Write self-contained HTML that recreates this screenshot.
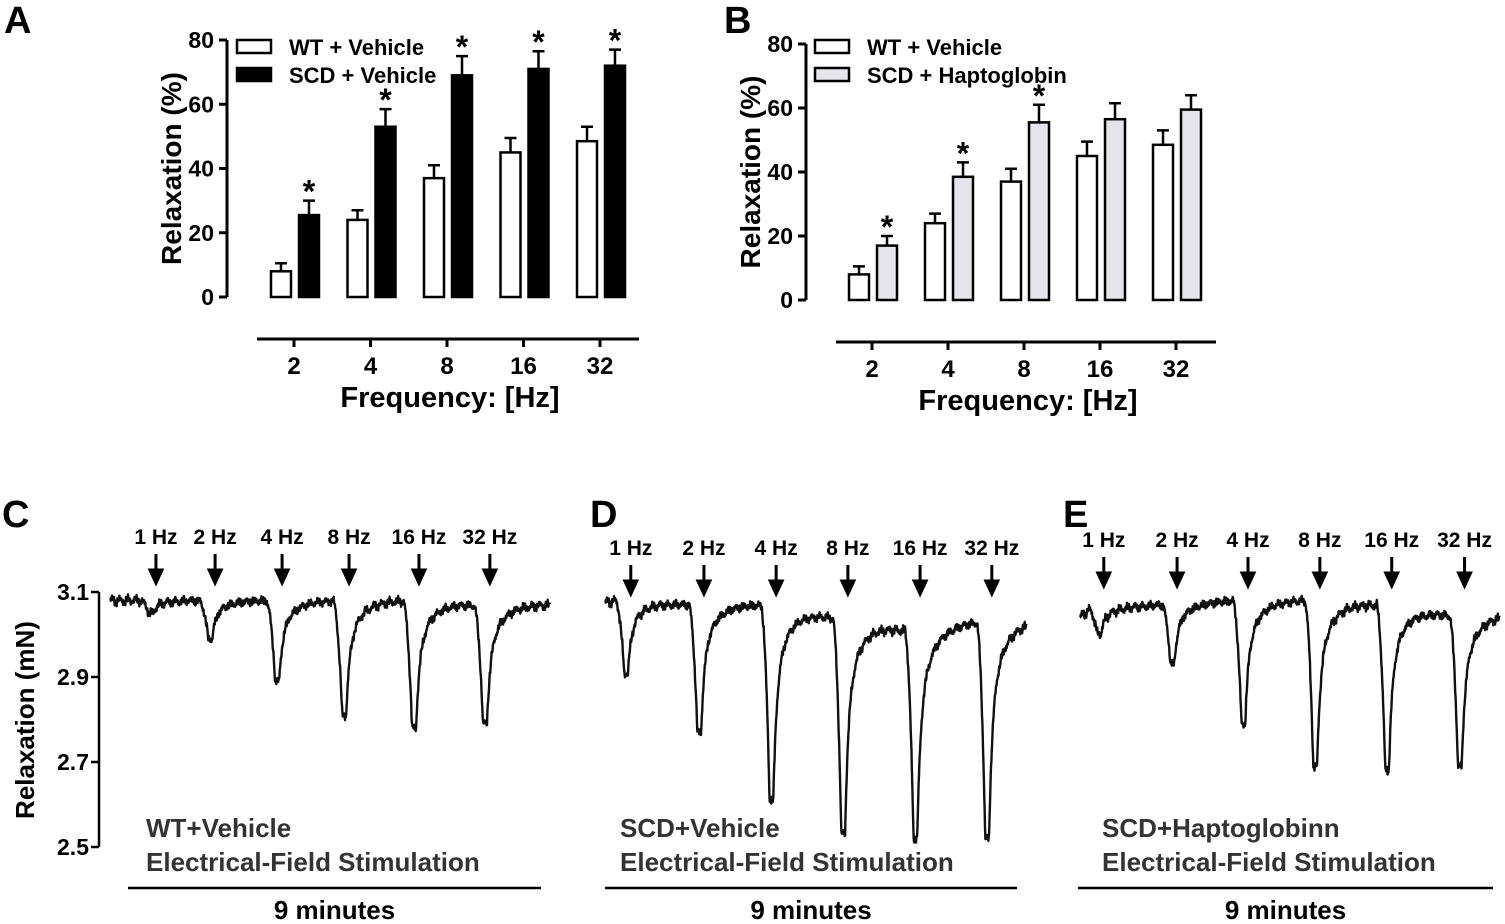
<!DOCTYPE html>
<html><head><meta charset="utf-8">
<style>
html,body{margin:0;padding:0;background:#fff;}
svg{display:block;font-family:"Liberation Sans",Arial,sans-serif;font-weight:bold;}
</style></head>
<body>
<svg id="fig" width="1505" height="924" viewBox="0 0 1505 924" xmlns="http://www.w3.org/2000/svg">
<g id="gA"></g>
<g id="gB"></g>
<g id="gC"></g>
<g id="gD"></g>
<g id="gE"></g>
</svg>
<script>
// ---------- bar chart data ----------
const freqCats = ["2","4","8","16","32"];
const yTicks = [0,20,40,60,80];
const wtMean = [8,24,37,45,48.5];
const wtErr = [2.5,3,4,4.5,4.5];
const scdMean = [25.5,53,69,71,72];
const scdErr = [4.5,5.5,6,5.5,5];
const scdStar = [true,true,true,true,true];
const hpMean = [17,38.5,55.5,56.5,59.5];
const hpErr = [3,4.5,5.5,5,4.5];
const hpStar = [true,true,true,false,false];

// ---------- trace data (minutes, mN) ----------
const freqLabels = ["1 Hz","2 Hz","4 Hz","8 Hz","16 Hz","32 Hz"];
const cStim = [0.94,2.15,3.52,4.89,6.32,7.77];
const cMin = [3.05,2.99,2.89,2.81,2.78,2.79];
const cBase = [3.08,3.08,3.08,3.08,3.08,3.08,3.07];
const dStim = [0.55,2.11,3.65,5.18,6.72,8.25];
const dMin = [2.91,2.77,2.615,2.535,2.52,2.52];
const dBase = [3.075,3.08,3.07,3.07,3.04,3.01,3.03];
const eStim = [0.51,2.08,3.60,5.14,6.68,8.24];
const eMin = [3.0,2.93,2.79,2.69,2.685,2.69];
const eBase = [3.04,3.06,3.07,3.08,3.08,3.07,3.045];
const mNTicks = [3.1,2.9,2.7,2.5];

const NS="http://www.w3.org/2000/svg";
function mk(parent,tag,attrs,text){const e=document.createElementNS(NS,tag);for(const k in attrs)e.setAttribute(k,attrs[k]);if(text!==undefined)e.textContent=text;parent.appendChild(e);return e;}

function barPanel(g,cfg){
  const y=v=>cfg.y0-(v/80)*(cfg.y0-cfg.y80);
  const cx=i=>cfg.c0+i*cfg.step;
  let t=mk(g,'text',{x:cfg.letterX,y:33,'font-size':38,fill:'#000'},cfg.letter);
  
  
  let a=mk(g,'line',{x1:cfg.ax,y1:y(80),x2:cfg.ax,y2:y(0),stroke:'#000','stroke-width':3});
  
  
  yTicks.forEach(v=>{
    let tk=mk(g,'line',{x1:cfg.ax-8,y1:y(v),x2:cfg.ax,y2:y(v),stroke:'#000','stroke-width':3});
    
    
    let tl=mk(g,'text',{x:cfg.ax-13,y:y(v)+8,'font-size':23,'text-anchor':'end'},String(v));
    
    
  });
  let yt=mk(g,'text',{x:0,y:0,'font-size':28,'text-anchor':'middle',transform:`translate(${cfg.ax-46},${(y(0)+y(80))/2}) rotate(-90)`},'Relaxation (%)');
  
  
  let xa=mk(g,'line',{x1:cfg.xl0,y1:cfg.xay,x2:cfg.xl1,y2:cfg.xay,stroke:'#000','stroke-width':3});
  
  
  freqCats.forEach((c,i)=>{
    let tk=mk(g,'line',{x1:cx(i),y1:cfg.xay,x2:cx(i),y2:cfg.xay+8,stroke:'#000','stroke-width':3});
    
    
    let tl=mk(g,'text',{x:cx(i),y:cfg.xay+35,'font-size':24,'text-anchor':'middle'},c);
    
    
  });
  let xt=mk(g,'text',{x:(cfg.xl0+cfg.xl1)/2+2,y:cfg.xay+68,'font-size':29,'text-anchor':'middle'},'Frequency: [Hz]');
  
  
  const bw=20;
  function bar(i,m,e,fill,off,name,star){
    const x=cx(i)+off;
    const top=y(m);
    let eb=mk(g,'path',{d:`M${x+bw/2},${top} V${y(m+e)} M${x+bw/2-6},${y(m+e)} H${x+bw/2+6}`,stroke:'#000','stroke-width':2.5,fill:'none'});
    
    
    let r=mk(g,'rect',{x:x,y:top,width:bw,height:y(0)-top,fill:fill,stroke:'#000','stroke-width':2.5});
    
    
    if(star){
      let s=mk(g,'text',{x:x+bw/2,y:y(m+e)+2,'font-size':32,'text-anchor':'middle'},'*');
      
      
    }
  }
  freqCats.forEach((c,i)=>{
    bar(i,wtMean[i],wtErr[i],'#fff',-23,'wt',false);
    bar(i,cfg.mean[i],cfg.err[i],cfg.fill,5,cfg.sname,cfg.star[i]);
  });
  const lg=[['WT + Vehicle','#fff'],[cfg.legend,cfg.fill]];
  lg.forEach((l,k)=>{
    let r=mk(g,'rect',{x:cfg.lx,y:cfg.ly+k*28,width:34,height:13,fill:l[1],stroke:'#000','stroke-width':2.5});
    
    
    let tt=mk(g,'text',{x:cfg.lx+52,y:cfg.ly+k*28+15,'font-size':22},l[0]);
    
    
  });
}
barPanel(document.getElementById('gA'),{letter:'A',letterX:4,ax:227,y0:297,y80:40,c0:294,step:76.5,xay:339,xl0:257,xl1:639,
  mean:scdMean,err:scdErr,star:scdStar,fill:'#000',sname:'scd',legend:'SCD + Vehicle',lx:237,ly:40});
barPanel(document.getElementById('gB'),{letter:'B',letterX:724,ax:806,y0:300,y80:44,c0:872,step:76,xay:342,xl0:836,xl1:1216,
  mean:hpMean,err:hpErr,star:hpStar,fill:'#e4e4ea',sname:'scd-hp',legend:'SCD + Haptoglobin',lx:815,ly:40});

function tracePanel(g,cfg){
  const yv=v=>592+(3.1-v)*425;
  const xt=m=>cfg.x0+m/9*(cfg.x1-cfg.x0);
  let t=mk(g,'text',{x:cfg.letterX,y:cfg.letterY,'font-size':38},cfg.letter);
  
  
  cfg.stim.forEach((s,i)=>{
    const x=xt(s);
    let l=mk(g,'text',{x:x,y:cfg.labY,'font-size':21,'text-anchor':'middle'},freqLabels[i]);
    
    
    let ar=mk(g,'path',{d:`M${x},${cfg.labY+10} V${cfg.labY+30} M${x-6},${cfg.labY+26} L${x},${cfg.labY+39} L${x+6},${cfg.labY+26} Z`,stroke:'#000','stroke-width':3,fill:'#000'});
    
    
  });
  const anchors=[0,...cfg.stim.map(s=>s-0.3)];
  anchors.push(9);
  const baseAt=m=>{
    for(let k=0;k<anchors.length-1;k++){
      if(m<=anchors[k+1]){const f=(m-anchors[k])/(anchors[k+1]-anchors[k]);return cfg.base[k]+(cfg.base[Math.min(k+1,cfg.base.length-1)]-cfg.base[k])*f;}
    }
    return cfg.base[cfg.base.length-1];
  };
  let d='';
  for(let m=0,n=0;m<=9.0001;m+=0.008,n++){
    let v=baseAt(m);
    cfg.stim.forEach((s,i)=>{
      const depth=baseAt(s-0.3)-cfg.min[i];
      const on=s-0.32, tm=s-0.14, hold=0.08;
      if(m>=on&&m<tm){const f=(m-on)/(tm-on);v-=depth*(0.15*f+0.85*f*f);}
      else if(m>=tm&&m<tm+hold) v-=depth;
      else if(m>=tm+hold){const dt=m-tm-hold;v-=depth*(0.6*Math.exp(-dt/0.07)+0.4*Math.exp(-dt/0.28));}
    });
    const jit=0.007*Math.sin(n*2.7)*Math.cos(n*1.3)+0.005*Math.sin(n*0.31)+0.003*Math.sin(n*5.1);
    d+=(n?'L':'M')+xt(m).toFixed(1)+','+yv(v+jit).toFixed(1);
  }
  let p=mk(g,'path',{d:d,fill:'none',stroke:'#111','stroke-width':2.4,'stroke-linejoin':'round'});
  
  
  if(cfg.axis){
    let a=mk(g,'line',{x1:99,y1:yv(3.1),x2:99,y2:yv(2.5),stroke:'#000','stroke-width':2.5});
    
    
    mNTicks.forEach(v=>{
      let tk=mk(g,'line',{x1:91,y1:yv(v),x2:99,y2:yv(v),stroke:'#000','stroke-width':2.5});
      
      
      let tl=mk(g,'text',{x:89,y:yv(v)+8,'font-size':23,'text-anchor':'end'},v.toFixed(1));
      
      
    });
    let yt=mk(g,'text',{x:0,y:0,'font-size':26,'text-anchor':'middle',transform:`translate(34,720) rotate(-90)`},'Relaxation (mN)');
    
    
  }
  let c1=mk(g,'text',{x:cfg.tx,y:837,'font-size':26,fill:'#333'},cfg.cond);
  
  
  let c2=mk(g,'text',{x:cfg.tx,y:871,'font-size':26,fill:'#333'},'Electrical-Field Stimulation');
  
  
  let sb=mk(g,'line',{x1:cfg.lx0,y1:888,x2:cfg.lx1,y2:888,stroke:'#000','stroke-width':2.5});
  
  
  let sl=mk(g,'text',{x:(cfg.lx0+cfg.lx1)/2,y:919,'font-size':26,'text-anchor':'middle'},'9 minutes');
  
  
}
tracePanel(document.getElementById('gC'),{letter:'C',letterX:2,letterY:527,labY:544,x0:110,x1:550,stim:cStim,min:cMin,base:cBase,axis:true,cond:'WT+Vehicle',tx:146,lx0:128,lx1:541});
tracePanel(document.getElementById('gD'),{letter:'D',letterX:590,letterY:527,labY:555,x0:605,x1:1027,stim:dStim,min:dMin,base:dBase,axis:false,cond:'SCD+Vehicle',tx:620,lx0:605,lx1:1017});
tracePanel(document.getElementById('gE'),{letter:'E',letterX:1063,letterY:527,labY:547,x0:1080,x1:1500,stim:eStim,min:eMin,base:eBase,axis:false,cond:'SCD+Haptoglobinn',tx:1102,lx0:1078,lx1:1493});
</script>
</body></html>
